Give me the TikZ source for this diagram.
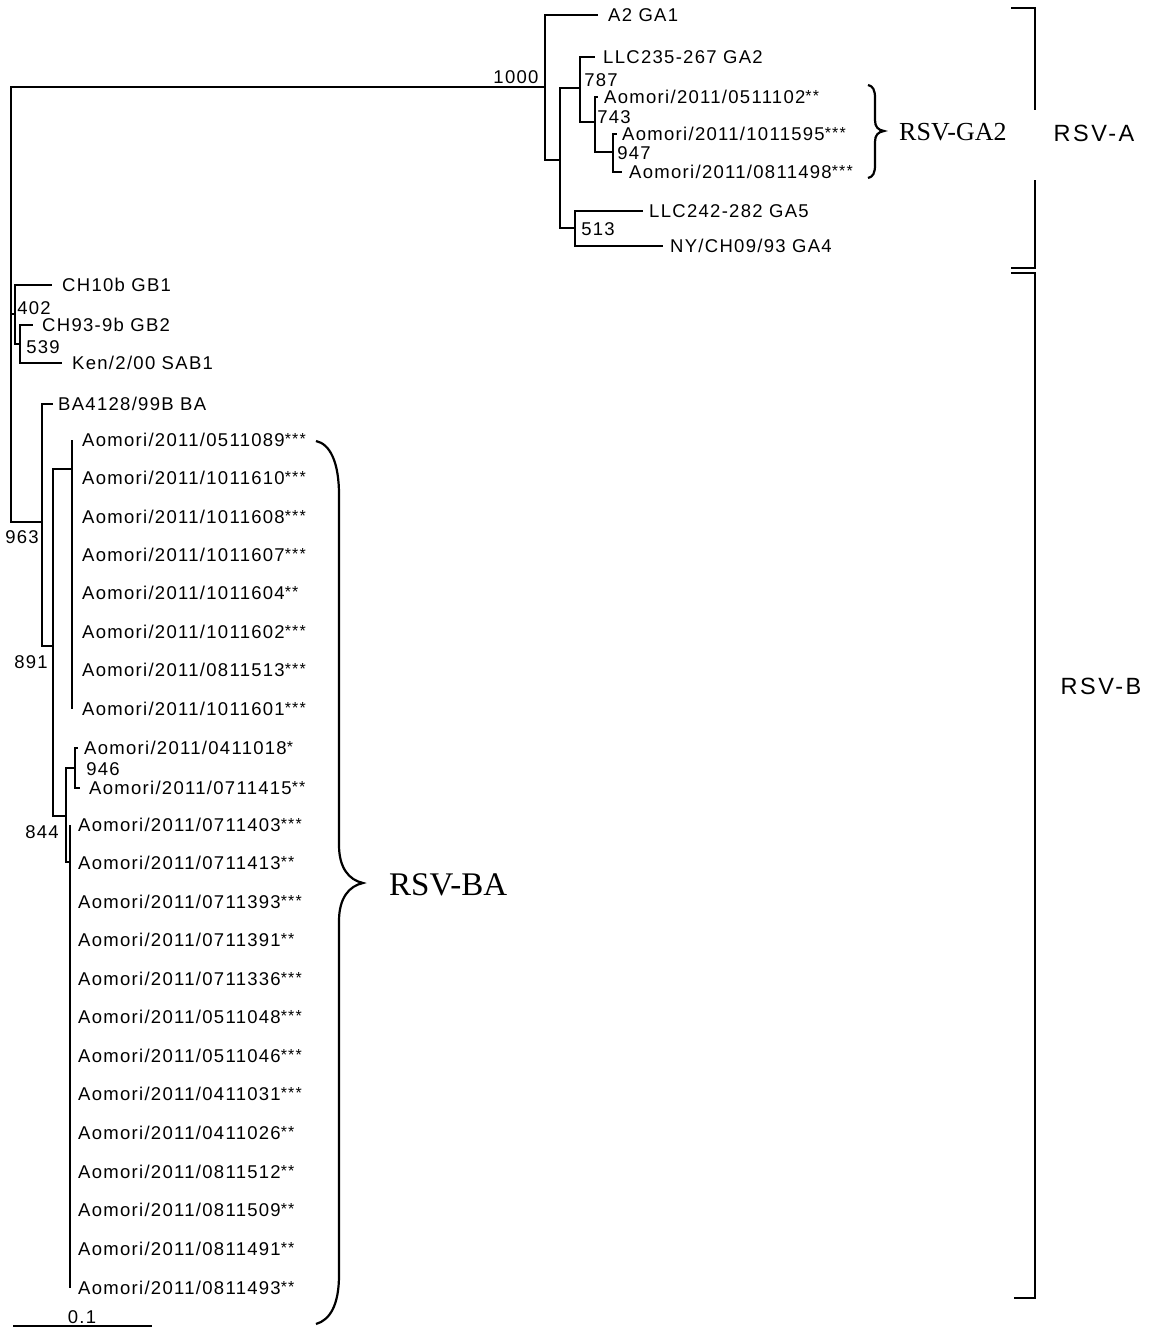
\documentclass[tikz,border=0pt]{standalone}
\usepackage{fontspec}
\newfontfamily\labfont[LetterSpace=7]{Liberation Sans}
\newfontfamily\gothfont[LetterSpace=11]{Liberation Sans}
\newfontfamily\serffont{Liberation Serif}
\newcommand\stars[1]{\raisebox{2.5pt}{\fontsize{16}{16}\selectfont #1}}
\begin{document}
\begin{tikzpicture}[x=1pt,y=-1pt,
  br/.style={line width=1.1pt},
  bk/.style={line width=1.6pt},
  brace/.style={line width=2.2pt},
  leaf/.style={anchor=west,inner sep=0pt,font=\fontsize{18.5}{20}\selectfont\labfont},
  boot/.style={inner sep=0pt,font=\fontsize{18.5}{20}\selectfont\labfont},
  clade/.style={inner sep=0pt,font=\fontsize{23.5}{26}\selectfont\gothfont},
  grp/.style={inner sep=0pt}]
\useasboundingbox (0,0) rectangle (1150,1328);

% ---------- internal nodes ----------
\coordinate (r) at (11,300);
\coordinate (n1000) at (545,87);
\coordinate (na) at (560,160);
\coordinate (n787) at (580,88);
\coordinate (n743) at (595,122);
\coordinate (n947) at (613,152);
\coordinate (n513) at (575,228);
\coordinate (n402) at (15,314);
\coordinate (n539) at (20,344);
\coordinate (n963) at (42,522);
\coordinate (n891) at (53,646);
\coordinate (p1) at (72,469);
\coordinate (n844) at (66,816);
\coordinate (n946) at (75,768);
\coordinate (p2) at (70,862);

% ---------- leaf ends ----------
\coordinate (eA2) at (598,15);
\coordinate (eLLC235) at (595,57);
\coordinate (e102) at (598,97);
\coordinate (e595) at (617,134);
\coordinate (e498) at (622,172);
\coordinate (eLLC242) at (643,211);
\coordinate (eNY) at (663,246);
\coordinate (eCH10) at (52,285);
\coordinate (eCH93) at (33,325);
\coordinate (eKen) at (62,363);
\coordinate (eBA) at (53,404);
\coordinate (e018) at (78,748);
\coordinate (e415) at (80,788);

% ---------- branches ----------
\draw[br] (r) |- (n1000);
\draw[br] (r) |- (n963);
\draw[br] (r) |- (n402);
\draw[br] (n1000) |- (eA2);
\draw[br] (n1000) |- (na);
\draw[br] (na) |- (n787);
\draw[br] (na) |- (n513);
\draw[br] (n787) |- (eLLC235);
\draw[br] (n787) |- (n743);
\draw[br] (n743) |- (e102);
\draw[br] (n743) |- (n947);
\draw[br] (n947) |- (e595);
\draw[br] (n947) |- (e498);
\draw[br] (n513) |- (eLLC242);
\draw[br] (n513) |- (eNY);
\draw[br] (n402) |- (eCH10);
\draw[br] (n402) |- (n539);
\draw[br] (n539) |- (eCH93);
\draw[br] (n539) |- (eKen);
\draw[br] (n963) |- (eBA);
\draw[br] (n963) |- (n891);
\draw[br] (n891) |- (p1);
\draw[br] (n891) |- (n844);
\draw[br] (n844) |- (n946);
\draw[br] (n844) |- (p2);
\draw[br] (n946) |- (e018);
\draw[br] (n946) |- (e415);

% ---------- leaf labels ----------
\node[leaf] (tA2) at (608,15) {A2 GA1};
\node[leaf] (tLLC235) at (603,57) {LLC235-267 GA2};
\node[leaf] (t102) at (604,97) {Aomori/2011/0511102\stars{**}};
\node[leaf] (t595) at (622,134) {Aomori/2011/1011595\stars{***}};
\node[leaf] (t498) at (629,172) {Aomori/2011/0811498\stars{***}};
\node[leaf] (tLLC242) at (649,211) {LLC242-282 GA5};
\node[leaf] (tNY) at (670,246) {NY/CH09/93 GA4};
\node[leaf] (tCH10) at (62,285) {CH10b GB1};
\node[leaf] (tCH93) at (42,325) {CH93-9b GB2};
\node[leaf] (tKen) at (72,363) {Ken/2/00 SAB1};
\node[leaf] (tBA) at (58,404) {BA4128/99B BA};
\node[leaf] (t018) at (84,748) {Aomori/2011/0411018\stars{*}};
\node[leaf] (t415) at (89,788) {Aomori/2011/0711415\stars{**}};

\foreach \y/\id/\s [count=\i] in {440/0511089/***,478/1011610/***,517/1011608/***,555/1011607/***,593/1011604/**,632/1011602/***,670/0811513/***,709/1011601/***}{
  \coordinate (pa\i) at (72,\y);
  \draw[br] (p1) |- (pa\i);
  \node[leaf] (ta\i) at (82,\y) {Aomori/2011/\id\stars{\s}};
}
\foreach \y/\id/\s [count=\i] in {825/0711403/***,863/0711413/**,902/0711393/***,940/0711391/**,979/0711336/***,1017/0511048/***,1056/0511046/***,1094/0411031/***,1133/0411026/**,1172/0811512/**,1210/0811509/**,1249/0811491/**,1288/0811493/**}{
  \coordinate (pb\i) at (70,\y);
  \draw[br] (p2) |- (pb\i);
  \node[leaf] (tb\i) at (78,\y) {Aomori/2011/\id\stars{\s}};
}

% ---------- bootstrap values ----------
\node[boot] (b1000) at (516,77) {1000};
\node[boot] (b787) at (601,80) {787};
\node[boot] (b743) at (614,117) {743};
\node[boot] (b947) at (634,153) {947};
\node[boot] (b513) at (598,229) {513};
\node[boot] (b402) at (34,308) {402};
\node[boot] (b539) at (43,347) {539};
\node[boot] (b963) at (22,537) {963};
\node[boot] (b891) at (31,662) {891};
\node[boot] (b844) at (42,832) {844};
\node[boot] (b946) at (103,769) {946};

% ---------- scale bar ----------
\coordinate (s0) at (13,1326);
\coordinate (s1) at (152,1326);
\draw[br] (s0) -- (s1);
\node[boot] (bscale) at (82,1317) {0.1};

% ---------- braces ----------
\draw[brace] (868,85) .. controls (873,86) and (875,90) .. (875,98) -- (875,120)
  .. controls (875,127) and (878,130) .. (884,131)
  .. controls (878,132) and (875,135) .. (875,142) -- (875,165)
  .. controls (875,173) and (873,177) .. (868,178);
\node[grp,anchor=west,font=\fontsize{26}{30}\selectfont\serffont] (gGA2) at (899,132) {RSV-GA2};

\draw[brace] (316,441) .. controls (330,444) and (339,462) .. (339,495) -- (339,845)
  .. controls (339,868) and (349,880) .. (363,883)
  .. controls (349,886) and (339,898) .. (339,921) -- (339,1275)
  .. controls (339,1305) and (330,1320) .. (316,1324);
\node[grp,anchor=west,font=\fontsize{33}{38}\selectfont\serffont] (gBA) at (389,885) {RSV-BA};

% ---------- clade brackets ----------
\draw[bk] (1011,8) -- (1035,8) -- (1035,110);
\draw[bk] (1035,180) -- (1035,268) -- (1011,268);
\node[clade] (cA) at (1094,133) {RSV-A};
\draw[bk] (1011,273) -- (1035,273) -- (1035,1298) -- (1014,1298);
\node[clade] (cB) at (1101,686) {RSV-B};
\end{tikzpicture}
\end{document}
